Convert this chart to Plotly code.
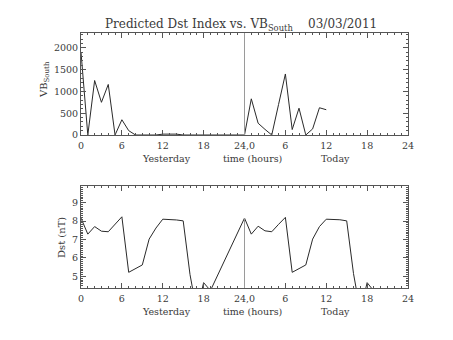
import plotly.graph_objects as go

# ---- data -------------------------------------------------------------
# VB_south, hourly: hours 0-23 = yesterday, 24-47 = today
vb_hours = list(range(0, 37))
vb_values = [1900, 0, 1250, 750, 1160, 0, 350, 100, 0, 0, 0, 0,
             20, 20, 20, 0, 0, 0, 0, 0, 0, 0, 0, 0,
             0, 830, 270, 130, 0, 700, 1400, 125, 615, 0, 140, 625, 580]

# predicted Dst, hourly (gap between 19 and 24)
dst_hours = [0, 1, 2, 3, 4, 5, 6, 7, 8, 9, 10, 11, 12, 13, 14, 15, 16, 17, 18, 19,
             24, 25, 26, 27, 28, 29, 30, 31, 32, 33, 34, 35, 36, 37, 38, 39, 40, 41, 42, 43]
dst_values = [8.16, 7.29, 7.70, 7.45, 7.42, 7.82, 8.23, 5.22, 5.42, 5.62,
              7.02, 7.62, 8.10, 8.10, 8.06, 8.01, 5.10, 3.10, 4.66, 4.23,
              8.16, 7.29, 7.72, 7.47, 7.42, 7.82, 8.20, 5.22, 5.42, 5.62,
              7.02, 7.70, 8.10, 8.09, 8.07, 8.01, 5.15, 3.10, 4.66, 4.20]

tick_hours = [0, 6, 12, 18, 24, 30, 36, 42, 48]
tick_labels = ["0", "6", "12", "18", "24,0", "6", "12", "18", "24"]
day_boundary = 24

vb_range = [0, 2340]
dst_range = [4.37, 9.90]

# ---- style -------------------------------------------------------------
FONT = "DejaVu Serif"
INK = "#3a3a3a"
AXIS = "#555555"
LINE = "#2a2a2a"
GUIDE = "#9a9a9a"

W, H = 453, 340
ML, MR, MT, MB = 81, 45, 33, 52
plot_h = H - MT - MB
plot_w = W - ML - MR


def py(pix):
    """pixel row -> paper y"""
    return (H - MB - pix) / plot_h


def px(pix):
    """pixel column -> paper x"""
    return (pix - ML) / plot_w


fig = go.Figure()

fig.add_trace(go.Scatter(x=vb_hours, y=vb_values, mode="lines",
                         line=dict(color=LINE, width=1), xaxis="x", yaxis="y",
                         showlegend=False, hoverinfo="skip"))
fig.add_trace(go.Scatter(x=dst_hours, y=dst_values, mode="lines",
                         line=dict(color=LINE, width=1), xaxis="x2", yaxis="y2",
                         showlegend=False, hoverinfo="skip"))

# day boundary markers
fig.add_shape(type="line", xref="x", yref="y domain", x0=day_boundary, x1=day_boundary,
              y0=0, y1=1, line=dict(color=GUIDE, width=1))
dst_at_boundary = dst_values[dst_hours.index(day_boundary)]
fig.add_shape(type="line", xref="x2", yref="y2", x0=day_boundary, x1=day_boundary,
              y0=dst_range[0], y1=dst_at_boundary, line=dict(color=GUIDE, width=1))

axis_common = dict(
    showline=True, linecolor=AXIS, linewidth=1, mirror="allticks",
    ticks="inside", ticklen=5, tickwidth=1, tickcolor=AXIS,
    showgrid=False, zeroline=False,
    tickfont=dict(family=FONT, size=9.5, color=INK),
)

xaxis_common = dict(axis_common, range=[0, 48], tickmode="array",
                    tickvals=tick_hours, ticktext=tick_labels,
                    ticklabelstandoff=2,
                    minor=dict(ticks="inside", ticklen=2, dtick=1, tick0=0,
                               tickcolor=AXIS, showgrid=False))

fig.update_layout(
    width=W, height=H,
    margin=dict(l=ML, r=MR, t=MT, b=MB),
    paper_bgcolor="white", plot_bgcolor="white",
    xaxis=dict(xaxis_common, domain=[0, 1], anchor="y"),
    yaxis=dict(axis_common, domain=[py(135), 1], anchor="x", range=vb_range,
               tickmode="linear", tick0=0, dtick=500,
               minor=dict(ticks="inside", ticklen=2, dtick=100,
                          tickcolor=AXIS, showgrid=False)),
    xaxis2=dict(xaxis_common, domain=[0, 1], anchor="y2"),
    yaxis2=dict(axis_common, domain=[0, py(186)], anchor="x2", range=dst_range,
                tickmode="linear", tick0=0, dtick=1,
                minor=dict(ticks="inside", ticklen=2, dtick=0.1,
                           tickcolor=AXIS, showgrid=False)),
)

annotations = [
    dict(text="Predicted Dst Index vs. VB<sub>South</sub>\u00a0\u00a0\u00a0\u00a003/03/2011",
         xref="paper", yref="paper", x=px(241), y=py(25), showarrow=False,
         xanchor="center", yanchor="middle",
         font=dict(family=FONT, size=12, color=INK)),
    dict(text="VB<sub>South</sub>", xref="paper", yref="paper", x=px(44), y=py(80),
         textangle=-90, showarrow=False, xanchor="center", yanchor="middle",
         font=dict(family=FONT, size=10, color=INK)),
    dict(text="Dst (nT)", xref="paper", yref="paper", x=px(61), y=py(238),
         textangle=-90, showarrow=False, xanchor="center", yanchor="middle",
         font=dict(family=FONT, size=10, color=INK)),
]
for row in (158.5, 311):
    for label, cx in (("Yesterday", 166), ("time (hours)", 252), ("Today", 335)):
        annotations.append(dict(text=label, xref="paper", yref="paper",
                                x=px(cx), y=py(row), showarrow=False,
                                xanchor="center", yanchor="middle",
                                font=dict(family=FONT, size=9.5, color=INK)))
fig.update_layout(annotations=annotations)

fig.write_html("out.html")
